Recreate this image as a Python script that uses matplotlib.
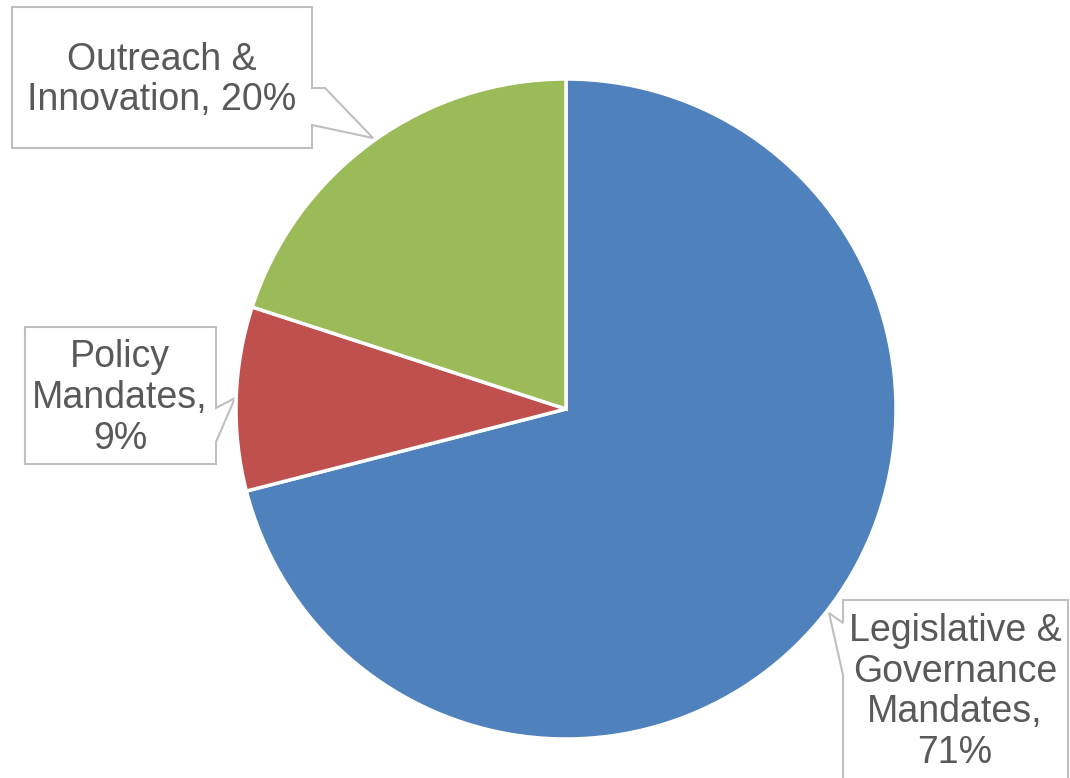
import matplotlib
matplotlib.use("Agg")
import matplotlib.pyplot as plt
from matplotlib.patches import Polygon

categories = ["Legislative &\nGovernance\nMandates,", "Policy\nMandates,", "Outreach &\nInnovation,"]
values = [71, 9, 20]
colors = ["#4F81BD", "#C0504D", "#9BBB59"]

W, H = 1070, 778
fig = plt.figure(figsize=(W / 100, H / 100), dpi=100)
ax = fig.add_axes([0, 0, 1, 1])
ax.set_xlim(0, W)
ax.set_ylim(H, 0)
ax.axis("off")

pax = fig.add_axes([0, 0, 1, 1])
cx, cy, r = 566, H - 409, 330
pax.pie(values, colors=colors, startangle=90, counterclock=False,
        center=(cx, cy), radius=r, frame=True,
        wedgeprops=dict(edgecolor="white", linewidth=2.5))
pax.set_xlim(0, W)
pax.set_ylim(0, H)
pax.axis("off")

# callout boxes (pixel coordinates, y downward)
boxes = [
    dict(poly=[(843, 600), (1068, 600), (1068, 790), (843, 790), (843, 675), (829, 613), (843, 623)],
         tx=955, ty=692, sep="\n"),
    dict(poly=[(25, 327), (216, 327), (216, 408), (235, 398), (216, 442), (216, 464), (25, 464)],
         tx=120, ty=398, sep="\n"),
    dict(poly=[(12, 7), (312, 7), (312, 88), (325, 88), (373, 138), (312, 125), (312, 148), (12, 148)],
         tx=162, ty=80, sep=" "),
]
text_color = "#595959"
for b, cat, v in zip(boxes, categories, values):
    ax.add_patch(Polygon(b["poly"], closed=True, facecolor="white",
                         edgecolor="#BFBFBF", linewidth=1.5, zorder=5))
    ax.text(b["tx"], b["ty"], f"{cat}{b['sep']}{v}%",
            ha="center", va="center", fontsize=27, color=text_color,
            family="Liberation Sans", linespacing=1.17, zorder=6)

fig.savefig("out.png", dpi=100)
